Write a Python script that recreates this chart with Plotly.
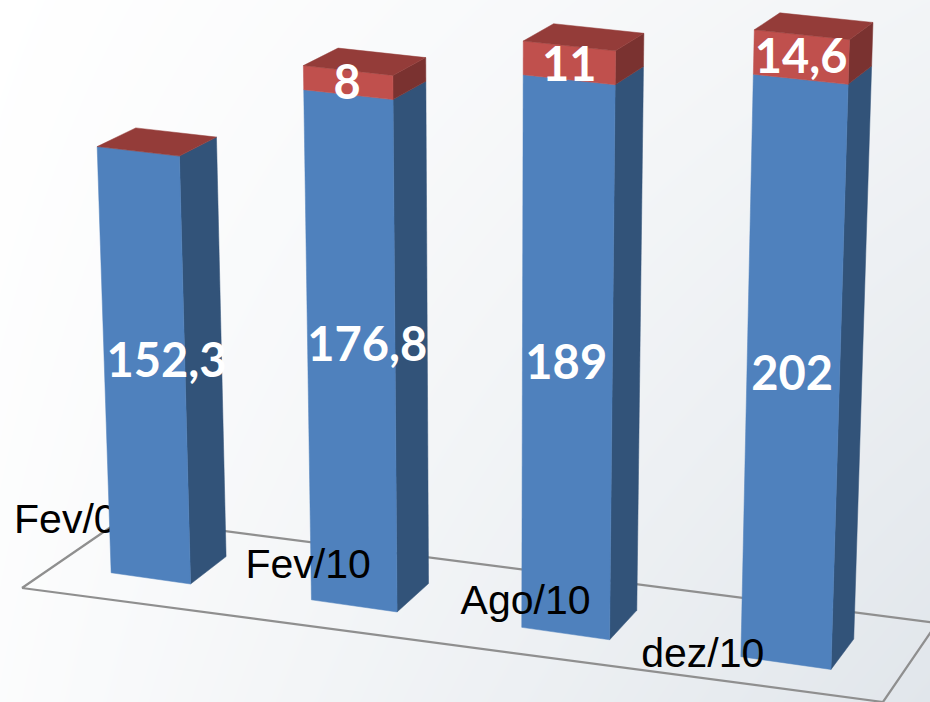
import numpy as np
import plotly.graph_objects as go

# ---- data ----
categories = ["Fev/09", "Fev/10", "Ago/10", "dez/10"]
series_blue = [152.3, 176.8, 189, 202]
series_red = [0, 8, 11, 14.6]
labels_blue = ["152,3", "176,8", "189", "202"]
labels_red = ["", "8", "11", "14,6"]

# ---- 3D scene: camera matrix, bar shape and per-bar adjustments ----
CAMERA = np.array([[201.4454184, -0.113184, 40.1079066, 107.6253871],
                   [21.67122, -2.847223, -15.4103623, 569.781182],
                   [-0.0123518, -0.0002297, 0.0214935, 1.0]])
BAR_W = [0.39, 0.41, 0.41, 0.41]
FLOOR_CORNERS = [(-0.247, -0.904), (3.715, -0.639), (3.712, 1.937), (-0.234, 1.704)]
# dx, dy at base, dy at top of the stack
ADJUST = [(3.5, 3, 5.5), (-1.5, 1, -3.5), (-1.7, -1.3, -6), (1.5, -2.5, 10)]
BLUE_NUDGE = [(22, -3), (16, -6), (-1, 4), (-1, 0)]
RED_NUDGE = [(0, 0), (-1, 5), (0, 6), (0, 4)]
CAT_NUDGE = [(-74, -56), (-46, -38), (-40, -30), (-83, -6)]

BLUE_FRONT, BLUE_SIDE = "#4F81BD", "#325379"
RED_FRONT, RED_SIDE, RED_TOP = "#C0504D", "#7A3230", "#943C39"
FLOOR_LINE = "#8F8F8F"


def project(x, v, z, bar=None):
    p = CAMERA @ np.array([x, v, z, 1.0])
    px, py = p[0] / p[2], p[1] / p[2]
    if bar is not None:
        dx, d0, d1 = ADJUST[bar]
        top = series_blue[bar] + series_red[bar]
        px += dx
        py += d0 + (d1 - d0) * v / top
    return px, py


def poly(points, color, bar):
    xy = [project(x, v, z, bar) for x, v, z in points]
    xs, ys = zip(*xy)
    return go.Scatter(x=list(xs) + [xs[0]], y=list(ys) + [ys[0]], mode="lines",
                      fill="toself", fillcolor=color,
                      line=dict(color=color, width=0.5),
                      hoverinfo="skip", showlegend=False)


def label(x, y, text, size, color, family, bold=False):
    return go.Scatter(x=[x], y=[y], mode="text", text=[text], textposition="middle center",
                      textfont=dict(size=size, color=color, family=family,
                                    weight=700 if bold else 400),
                      hoverinfo="skip", showlegend=False)


fig = go.Figure()

# soft background shading
fig.add_trace(go.Heatmap(x=[0, 930], y=[0, 702], z=[[0, 0.42], [0.12, 1]], zsmooth="best",
                         zmin=0, zmax=1, showscale=False, hoverinfo="skip",
                         colorscale=[[0, "#FFFFFF"], [1, "#E1E6EB"]]))

# floor outline
corners = [(cx, 0, cz) for cx, cz in FLOOR_CORNERS + FLOOR_CORNERS[:1]]
fx, fy = zip(*[project(*c) for c in corners])
fig.add_trace(go.Scatter(x=fx, y=fy, mode="lines", line=dict(color=FLOOR_LINE, width=2.2),
                         hoverinfo="skip", showlegend=False))


def cat_label(i):
    bx, by = project(i + BAR_W[i] / 2, 0, 0, i)
    return label(bx + CAT_NUDGE[i][0], by + CAT_NUDGE[i][1], categories[i], 41, "#000000",
                 "Liberation Sans")


# first category label sits behind its bar
fig.add_trace(cat_label(0))

for i, (b, r) in enumerate(zip(series_blue, series_red)):
    x0, x1 = i, i + BAR_W[i]
    t = b + r
    fig.add_trace(poly([(x1, 0, 0), (x1, 0, 1), (x1, b, 1), (x1, b, 0)], BLUE_SIDE, i))
    fig.add_trace(poly([(x0, 0, 0), (x1, 0, 0), (x1, b, 0), (x0, b, 0)], BLUE_FRONT, i))
    if r > 0:
        fig.add_trace(poly([(x1, b, 0), (x1, b, 1), (x1, t, 1), (x1, t, 0)], RED_SIDE, i))
        fig.add_trace(poly([(x0, b, 0), (x1, b, 0), (x1, t, 0), (x0, t, 0)], RED_FRONT, i))
    fig.add_trace(poly([(x0, t, 0), (x1, t, 0), (x1, t, 1), (x0, t, 1)], RED_TOP, i))

for i in range(1, len(categories)):
    fig.add_trace(cat_label(i))

for i, (b, r) in enumerate(zip(series_blue, series_red)):
    mx, my = project(i + BAR_W[i] / 2, b / 2, 0, i)
    fig.add_trace(label(mx + BLUE_NUDGE[i][0], my + BLUE_NUDGE[i][1], labels_blue[i], 47,
                        "#FFFFFF", "Lato", True))
    if r > 0:
        mx, my = project(i + BAR_W[i] / 2, b + r / 2, 0, i)
        fig.add_trace(label(mx + RED_NUDGE[i][0], my + RED_NUDGE[i][1], labels_red[i], 47,
                            "#FFFFFF", "Lato", True))

fig.update_layout(width=930, height=702, margin=dict(l=0, r=0, t=0, b=0),
                  paper_bgcolor="#FFFFFF", plot_bgcolor="#FFFFFF", showlegend=False,
                  xaxis=dict(range=[0, 930], visible=False, fixedrange=True),
                  yaxis=dict(range=[702, 0], visible=False, fixedrange=True))

fig.write_html("out.html", config={"displayModeBar": False},
               post_script="document.body.style.margin='0';document.body.style.overflow='hidden';")
